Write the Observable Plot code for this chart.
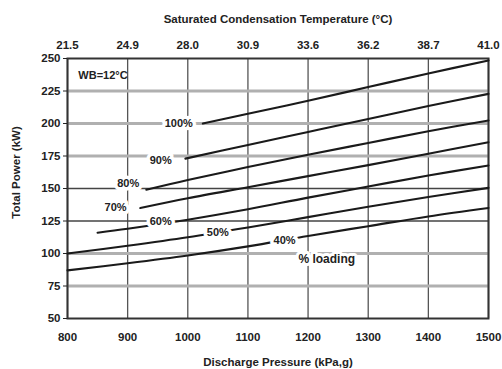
<!DOCTYPE html>
<html>
<head>
<meta charset="utf-8">
<script src="https://cdn.jsdelivr.net/npm/d3@7"></script>
<script src="https://cdn.jsdelivr.net/npm/@observablehq/plot@0.6"></script>
<style>
  html, body { margin: 0; padding: 0; background: #ffffff; }
  #chart svg { display: block; }
</style>
</head>
<body>
<div id="chart"></div>
<script>
// ---- data ----
const pressureTicks = [800, 900, 1000, 1100, 1200, 1300, 1400, 1500];
const tempLabels = ["21.5", "24.9", "28.0", "30.9", "33.6", "36.2", "38.7", "41.0"];
const powerTicks = [50, 75, 100, 125, 150, 175, 200, 225, 250];
const lightGrid = [75, 100, 175, 200, 225];
const darkGrid = [125, 150];

const loadings = ["100%", "90%", "80%", "70%", "60%", "50%", "40%"];
const load100 = [[1025, 200], [1100, 207.5], [1200, 217.5], [1300, 228], [1400, 238.5], [1500, 248.5]];
const load90  = [[996, 173], [1100, 183.5], [1200, 193.5], [1300, 203.5], [1400, 213.5], [1500, 222.8]];
const load80  = [[931, 149], [1000, 156.5], [1100, 166.5], [1200, 176], [1300, 185], [1400, 194], [1500, 202.3]];
const load70  = [[921, 135], [1000, 142.5], [1100, 151], [1200, 159.5], [1300, 168], [1400, 176.8], [1500, 185.6]];
const load60  = [[850, 116], [900, 119], [1000, 126], [1100, 134], [1200, 143], [1300, 151.5], [1400, 160], [1500, 167.7]];
const load50  = [[800, 100], [900, 106], [1000, 112.5], [1100, 120], [1200, 128], [1300, 136], [1400, 143.5], [1500, 150.5]];
const load40  = [[800, 87], [900, 92.5], [1000, 98.5], [1100, 105.5], [1200, 113.5], [1300, 121], [1400, 128.5], [1500, 135]];
const seriesValues = [load100, load90, load80, load70, load60, load50, load40];

// where each loading label sits (pressure, power)
const labelPressure = [985, 955, 901, 880, 955, 1050, 1161];
const labelPower = [200, 171.5, 154, 135.5, 124.6, 116, 110];

const noteText = ["WB=12°C", "% loading"];
const notePressure = [818, 1184];
const notePower = [237, 95.4];

// ---- tables built from the arrays ----
const lineData = seriesValues.flatMap((pts, i) => pts.map(([p, v]) => ({loading: loadings[i], p, v})));
const labelData = loadings.map((t, i) => ({t, p: labelPressure[i], v: labelPower[i]}));
const noteData = noteText.map((t, i) => ({t, p: notePressure[i], v: notePower[i]}));

const font = "'Liberation Sans', Arial, sans-serif";

const chart = Plot.plot({
  width: 502,
  height: 369,
  marginLeft: 67,
  marginRight: 14,
  marginTop: 58,
  marginBottom: 51,
  style: {fontFamily: font, fontSize: "11.5px", fontWeight: "bold", color: "#222", background: "#fff"},
  x: {domain: [800, 1500]},
  y: {domain: [50, 250]},
  marks: [
    Plot.ruleX(pressureTicks, {stroke: "#555", strokeWidth: 1.3}),
    Plot.ruleY(lightGrid, {stroke: "#b0b0b0", strokeWidth: 3.2}),
    Plot.ruleY(darkGrid, {stroke: "#444", strokeWidth: 1.4}),
    Plot.frame({stroke: "#333", strokeWidth: 2}),
    Plot.line(lineData, {x: "p", y: "v", z: "loading", stroke: "#1a1a1a", strokeWidth: 2.1, curve: "catmull-rom"}),
    Plot.text(labelData, {x: "p", y: "v", text: "t", fill: "#222", stroke: "white", strokeWidth: 7, paintOrder: "stroke", fontSize: 11}),
    Plot.text(noteData.slice(0, 1), {x: "p", y: "v", text: "t", textAnchor: "start", fill: "#222", fontSize: 11}),
    Plot.text(noteData.slice(1), {x: "p", y: "v", text: "t", textAnchor: "start", fill: "#222", stroke: "white", strokeWidth: 6, paintOrder: "stroke", fontSize: 12}),
    Plot.axisX({anchor: "top", ticks: pressureTicks, tickSize: 0, tickPadding: 10,
      tickFormat: (d) => tempLabels[pressureTicks.indexOf(d)],
      label: "Saturated Condensation Temperature (°C)", labelAnchor: "center", labelOffset: 44, labelArrow: "none"}),
    Plot.axisX({anchor: "bottom", ticks: pressureTicks, tickSize: 0, tickPadding: 14, tickFormat: (d) => String(d),
      label: "Discharge Pressure (kPa,g)", labelAnchor: "center", labelOffset: 47, labelArrow: "none"}),
    Plot.axisY({ticks: powerTicks, tickSize: 4, tickPadding: 3, tickFormat: (d) => String(d), label: null}),
    Plot.text(["Total Power (kW)"], {frameAnchor: "left", textAnchor: "middle", rotate: -90, dx: -51, dy: -16, fill: "#222"})
  ]
});
document.getElementById("chart").appendChild(chart);
</script>
</body>
</html>
